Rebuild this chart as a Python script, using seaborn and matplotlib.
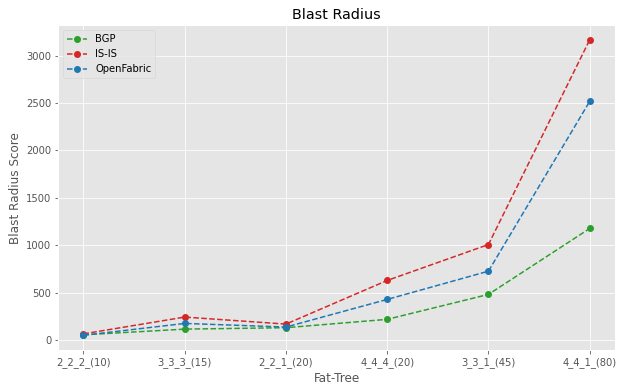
import matplotlib
matplotlib.use("Agg")
import matplotlib.pyplot as plt
import seaborn as sns
import pandas as pd

categories = ["2_2_2_(10)", "3_3_3_(15)", "2_2_1_(20)", "4_4_4_(20)", "3_3_1_(45)", "4_4_1_(80)"]
bgp = [55, 115, 130, 218, 481, 1176]
isis = [65, 242, 168, 628, 1007, 3165]
openfabric = [50, 175, 137, 428, 726, 2516]

df = pd.DataFrame({
    "Fat-Tree": categories * 3,
    "Blast Radius Score": bgp + isis + openfabric,
    "Protocol": ["BGP"] * 6 + ["IS-IS"] * 6 + ["OpenFabric"] * 6,
})

plt.style.use("ggplot")
fig, ax = plt.subplots(figsize=(625 / 72, 392 / 72), dpi=72)
palette = {"BGP": "#2ca02c", "IS-IS": "#d62728", "OpenFabric": "#1f77b4"}
sns.lineplot(data=df, x="Fat-Tree", y="Blast Radius Score", hue="Protocol",
             palette=palette, marker="o", markersize=7, markeredgewidth=0,
             linestyle="--", ax=ax, sort=False)
ax.set_title("Blast Radius")
ax.legend(loc="upper left")
fig.subplots_adjust(left=0.093, right=0.984, top=0.936, bottom=0.107)
fig.savefig("out.png")
